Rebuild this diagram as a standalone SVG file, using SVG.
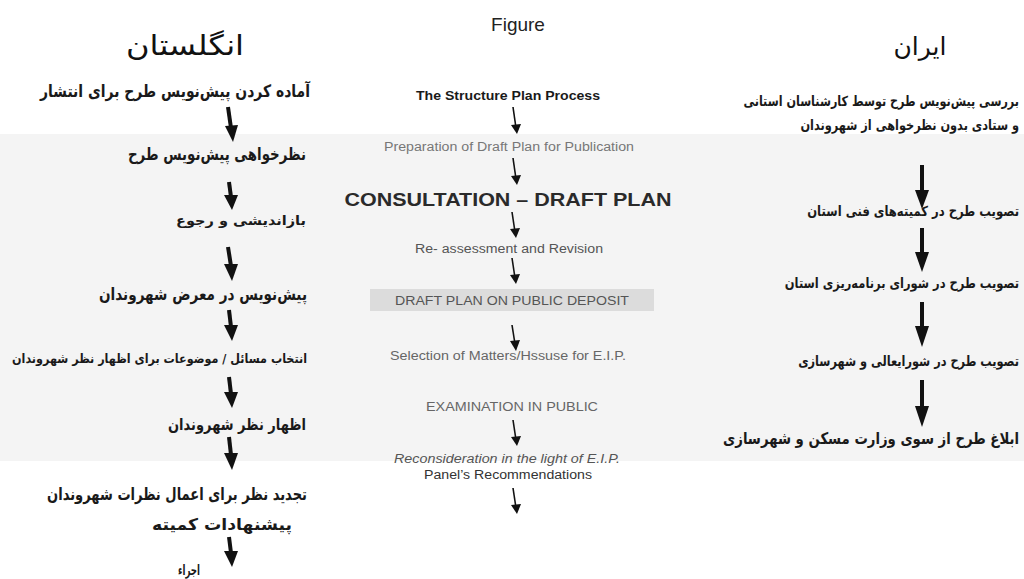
<svg xmlns="http://www.w3.org/2000/svg" width="1024" height="579" viewBox="0 0 1024 579">
<defs>
<style>
.fa{font-family:"DejaVu Sans","Noto Sans",sans-serif;font-weight:bold;fill:#1a1a1a;text-anchor:end}
.ti{font-family:"DejaVu Sans","Noto Sans",sans-serif;fill:#111;text-anchor:middle}
.en{font-family:"Liberation Sans",Arial,sans-serif;text-anchor:middle}
.thick{stroke:#111;stroke-width:4;fill:none}
.thin{stroke:#111;stroke-width:1.6;fill:none}
</style>
</defs>
<rect width="1024" height="579" fill="#fff"/>
<rect x="0" y="134" width="1024" height="327" fill="#f4f4f4"/>

<g id="titles">
<text class="ti" x="185" y="55" font-size="28" textLength="118" lengthAdjust="spacingAndGlyphs">انگلستان</text>
<text class="en" x="518" y="31" font-size="19" fill="#222">Figure</text>
<text class="ti" x="920" y="55" font-size="25">ایران</text>
</g>

<g id="england">
<g id="e1"><text class="fa" x="310" y="97" font-size="17" textLength="270" lengthAdjust="spacingAndGlyphs">آماده کردن پیش‌نویس طرح برای انتشار</text></g>
<g id="e2"><text class="fa" x="306" y="160" font-size="17" textLength="178" lengthAdjust="spacingAndGlyphs">نظرخواهی پیش‌نویس طرح</text></g>
<g id="e3"><text class="fa" x="306" y="225" font-size="13" textLength="130" lengthAdjust="spacingAndGlyphs">بازاندیشی  و  رجوع</text></g>
<g id="e4"><text class="fa" x="307" y="300" font-size="17" textLength="208" lengthAdjust="spacingAndGlyphs">پیش‌نویس در معرض شهروندان</text></g>
<g id="e5"><text class="fa" x="307" y="363" font-size="13" textLength="295" lengthAdjust="spacingAndGlyphs">انتخاب مسائل / موضوعات برای اظهار نظر شهروندان</text></g>
<g id="e6"><text class="fa" x="306" y="430" font-size="16" textLength="138" lengthAdjust="spacingAndGlyphs">اظهار نظر شهروندان</text></g>
<g id="e7"><text class="fa" x="307" y="500" font-size="17" textLength="260" lengthAdjust="spacingAndGlyphs">تجدید نظر برای اعمال نظرات شهروندان</text></g>
<g id="e8"><text class="fa" x="292" y="530" font-size="16" textLength="140" lengthAdjust="spacingAndGlyphs">پیشنهادات کمیته</text></g>
<g id="e9"><text class="fa" x="200" y="575" font-size="14" textLength="22" lengthAdjust="spacingAndGlyphs">اجراء</text></g>
</g>

<g id="structure">
<g id="m0"><text class="en" x="508" y="100" font-size="12" font-weight="bold" fill="#1a1a1a" textLength="184" lengthAdjust="spacingAndGlyphs">The Structure Plan Process</text></g>
<g id="m1"><text class="en" x="509" y="151" font-size="12" fill="#777" textLength="250" lengthAdjust="spacingAndGlyphs">Preparation of Draft Plan for Publication</text></g>
<g id="m2"><text class="en" x="508" y="206" font-size="18" font-weight="bold" fill="#2a2a2a" textLength="327" lengthAdjust="spacingAndGlyphs">CONSULTATION – DRAFT PLAN</text></g>
<g id="m3"><text class="en" x="509" y="253" font-size="12" fill="#555" textLength="188" lengthAdjust="spacingAndGlyphs">Re- assessment and Revision</text></g>
<g id="m4"><rect x="370" y="289" width="284" height="22" fill="#dcdcdc"/><text class="en" x="512" y="305" font-size="12" fill="#555" textLength="234" lengthAdjust="spacingAndGlyphs">DRAFT PLAN ON PUBLIC DEPOSIT</text></g>
<g id="m5"><text class="en" x="508" y="360" font-size="12" fill="#666" textLength="236" lengthAdjust="spacingAndGlyphs">Selection of Matters/Hssuse for E.I.P.</text></g>
<g id="m6"><text class="en" x="512" y="411" font-size="12" fill="#666" textLength="172" lengthAdjust="spacingAndGlyphs">EXAMINATION IN PUBLIC</text></g>
<g id="m7"><text class="en" x="507" y="463" font-size="12" font-style="italic" fill="#555" textLength="226" lengthAdjust="spacingAndGlyphs">Reconsideration in the light of E.I.P.</text><text class="en" x="508" y="479" font-size="12" fill="#333" textLength="168" lengthAdjust="spacingAndGlyphs">Panel’s Recommendations</text></g>
</g>

<g id="iran">
<g id="i1"><text class="fa" transform="translate(1019 106) scale(0.8 1)" font-size="14">بررسی پیش‌نویس طرح توسط کارشناسان استانی</text><text class="fa" transform="translate(1019 130) scale(0.81 1)" font-size="14">و ستادی بدون نظرخواهی از شهروندان</text></g>
<g id="i2"><text class="fa" transform="translate(1019 216) scale(0.83 1)" font-size="14">تصویب طرح در کمیته‌های فنی استان</text></g>
<g id="i3"><text class="fa" transform="translate(1019 288) scale(0.82 1)" font-size="14">تصویب طرح در شورای برنامه‌ریزی استان</text></g>
<g id="i4"><text class="fa" transform="translate(1019 366) scale(0.81 1)" font-size="14">تصویب طرح در شورایعالی و شهرسازی</text></g>
<g id="i5"><text class="fa" transform="translate(1019 444) scale(0.83 1)" font-size="16">ابلاغ طرح از سوی وزارت مسکن و شهرسازی</text></g>
</g>

<g id="connectors">
<g fill="#111">
<path d="M228,107 L231,128" class="thick"/><polygon points="225,126 238,125 233,142"/>
<path d="M229,182 L231,197" class="thick"/><polygon points="224,195 238,195 232,210"/>
<path d="M228,247 L231,266" class="thick"/><polygon points="224,264 238,264 232,281"/>
<path d="M229,310 L231,327" class="thick"/><polygon points="224,325 238,325 232,341"/>
<path d="M229,377 L231,394" class="thick"/><polygon points="224,392 238,392 232,408"/>
<path d="M229,437 L231,455" class="thick"/><polygon points="224,453 238,453 232,470"/>
<path d="M229,537 L231,553" class="thick"/><polygon points="224,551 238,551 232,567"/>
<path d="M922,165 L922,192" class="thick"/><polygon points="915,190 929,190 922,209"/>
<path d="M922,228 L922,254" class="thick"/><polygon points="915,252 929,252 922,272"/>
<path d="M922,302 L922,328" class="thick"/><polygon points="915,326 929,326 922,347"/>
<path d="M922,380 L922,408" class="thick"/><polygon points="915,406 929,406 922,427"/>
<path d="M513,107 L516,128" class="thin"/><polygon points="511,125 521,124 517,134"/>
<path d="M513,158 L516,179" class="thin"/><polygon points="511,176 521,175 517,185"/>
<path d="M512,212 L515,232" class="thin"/><polygon points="510,229 520,228 516,238"/>
<path d="M512,258 L515,278" class="thin"/><polygon points="510,275 520,274 516,284"/>
<path d="M512,325 L515,344" class="thin"/><polygon points="510,341 520,340 516,351"/>
<path d="M513,420 L516,440" class="thin"/><polygon points="511,437 521,436 517,446"/>
<path d="M513,488 L516,508" class="thin"/><polygon points="511,505 521,504 517,514"/>
</g>
</g>
</svg>
